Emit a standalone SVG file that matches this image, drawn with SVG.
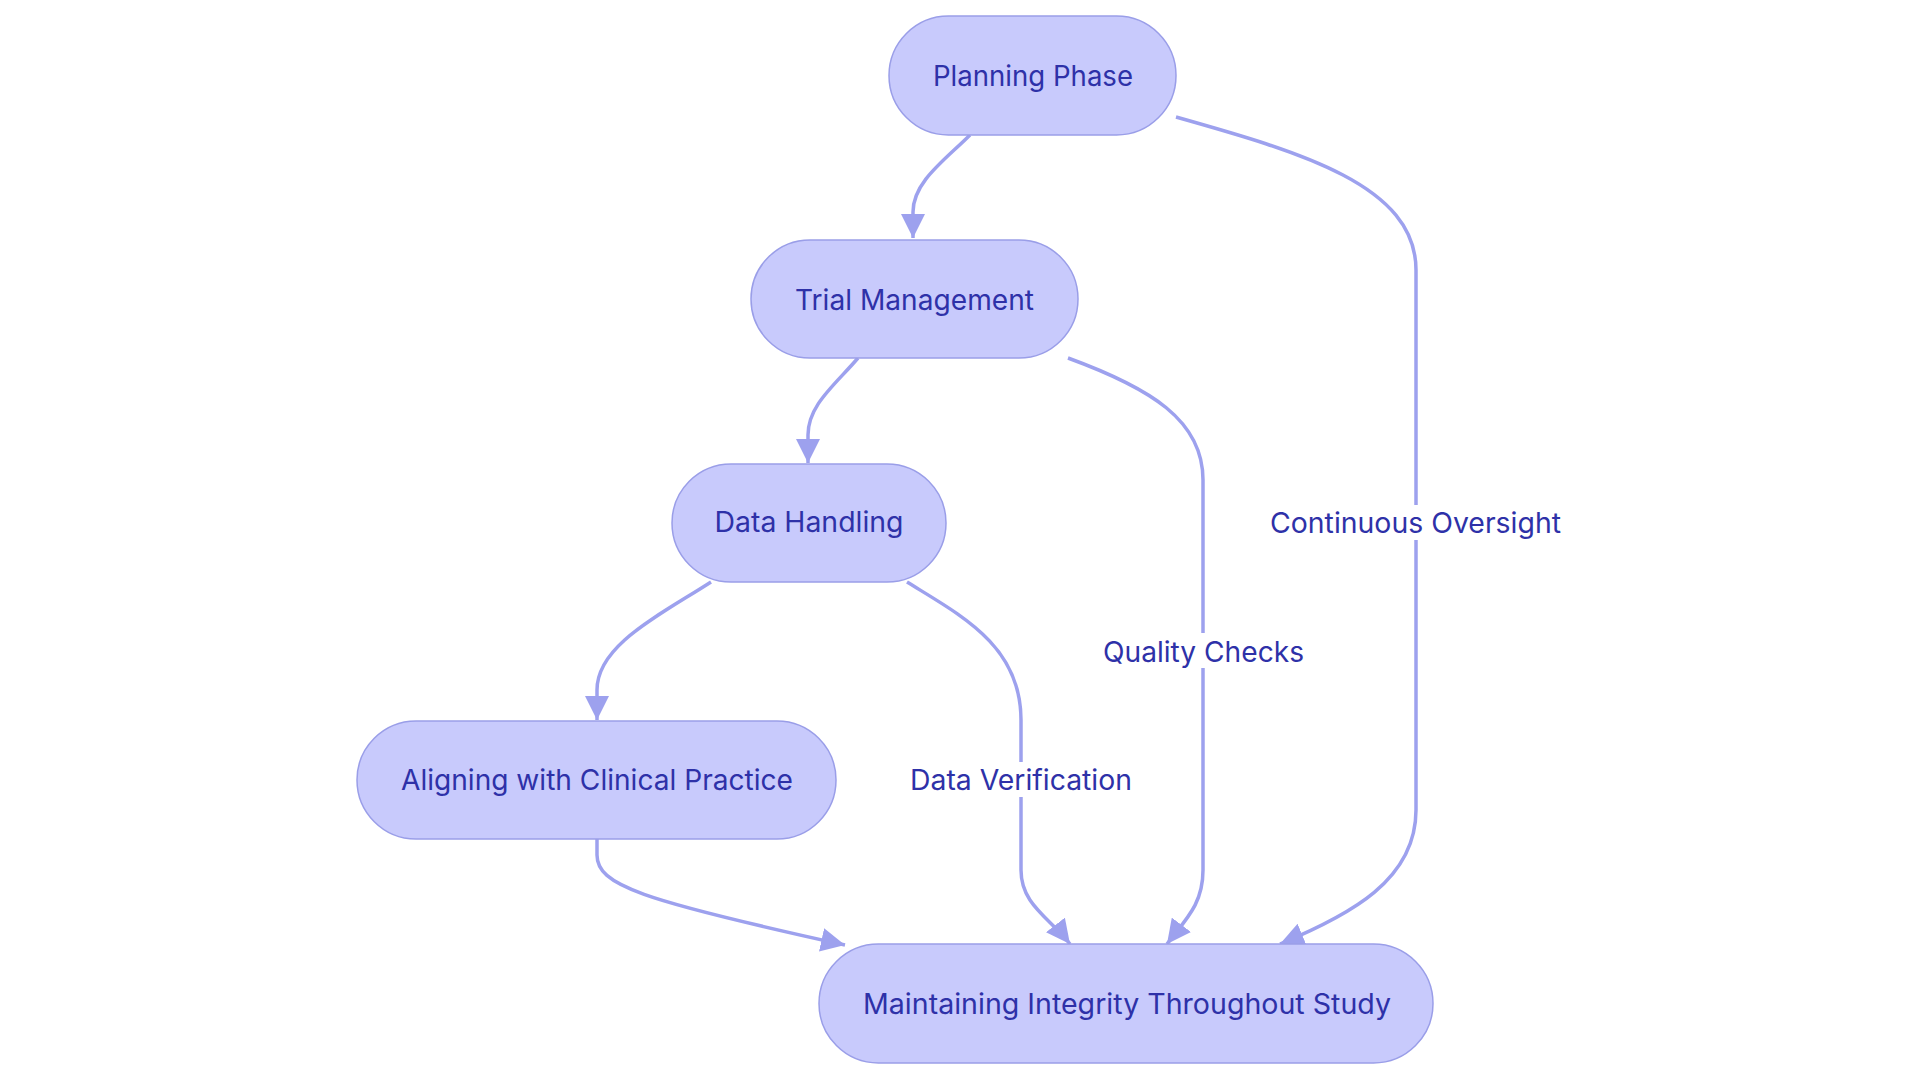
<svg xmlns="http://www.w3.org/2000/svg" width="1920" height="1080" viewBox="0 0 1920 1080">
<style>
.node rect{fill:#c8cafc;stroke:#9a9ee8;stroke-width:1.5}
.node text,.label text{font-family:Inter,"Noto Sans",sans-serif;font-size:28px;fill:#2e31a8;text-anchor:middle}
.edge{fill:none;stroke:#9da1ee;stroke-width:3.5}
.label rect{fill:#ffffff}
</style>
<defs>
<marker id="arr" viewBox="0 0 10 10" refX="10" refY="5" markerWidth="24" markerHeight="24" markerUnits="userSpaceOnUse" orient="auto">
<path d="M0,0 L10,5 L0,10 z" fill="#9da1ee"/>
</marker>
</defs>
<rect width="1920" height="1080" fill="#ffffff"/>
<g id="connectors">
<path class="edge" d="M970,135 C945,160 913,182 913,212 L913,238" marker-end="url(#arr)"/>
<path class="edge" d="M858,358 C835,385 808,405 808,435 L808,463" marker-end="url(#arr)"/>
<path class="edge" d="M711,582 C660,615 597,645 597,690 L597,720" marker-end="url(#arr)"/>
<path class="edge" d="M597,839 L597,855 C597,885 640,900 845,945" marker-end="url(#arr)"/>
<path class="edge" d="M907,582 C960,615 1021,645 1021,720 L1021,870 C1021,905 1050,918 1070,944" marker-end="url(#arr)"/>
<path class="edge" d="M1068,358 C1150,388 1203,420 1203,480 L1203,870 C1203,905 1185,920 1167,944" marker-end="url(#arr)"/>
<path class="edge" d="M1176,117 C1300,152 1416,185 1416,270 L1416,810 C1416,880 1350,915 1280,944" marker-end="url(#arr)"/>
<g class="label" id="label-data-verification"><rect x="910" y="762" width="222" height="35"/><text x="1021" y="790" textLength="222" lengthAdjust="spacingAndGlyphs">Data Verification</text></g>
<g class="label" id="label-quality-checks"><rect x="1103" y="633" width="201" height="35"/><text x="1203.5" y="662" textLength="201" lengthAdjust="spacingAndGlyphs">Quality Checks</text></g>
<g class="label" id="label-continuous-oversight"><rect x="1270" y="505" width="291" height="35"/><text x="1415.5" y="533" textLength="291" lengthAdjust="spacingAndGlyphs">Continuous Oversight</text></g>
</g>
<g class="node" id="planning-phase"><rect x="889" y="16" width="287" height="119" rx="59.5"/><text x="1033" y="86" textLength="200" lengthAdjust="spacingAndGlyphs">Planning Phase</text></g>
<g class="node" id="trial-management"><rect x="751" y="240" width="327" height="118" rx="59"/><text x="914.5" y="310" textLength="239" lengthAdjust="spacingAndGlyphs">Trial Management</text></g>
<g class="node" id="data-handling"><rect x="672" y="464" width="274" height="118" rx="59"/><text x="809" y="532" textLength="189" lengthAdjust="spacingAndGlyphs">Data Handling</text></g>
<g class="node" id="aligning-clinical-practice"><rect x="357" y="721" width="479" height="118" rx="59"/><text x="597" y="790" textLength="392" lengthAdjust="spacingAndGlyphs">Aligning with Clinical Practice</text></g>
<g class="node" id="maintaining-integrity"><rect x="819" y="944" width="614" height="119" rx="59.5"/><text x="1127" y="1014" textLength="528" lengthAdjust="spacingAndGlyphs">Maintaining Integrity Throughout Study</text></g>
</svg>
